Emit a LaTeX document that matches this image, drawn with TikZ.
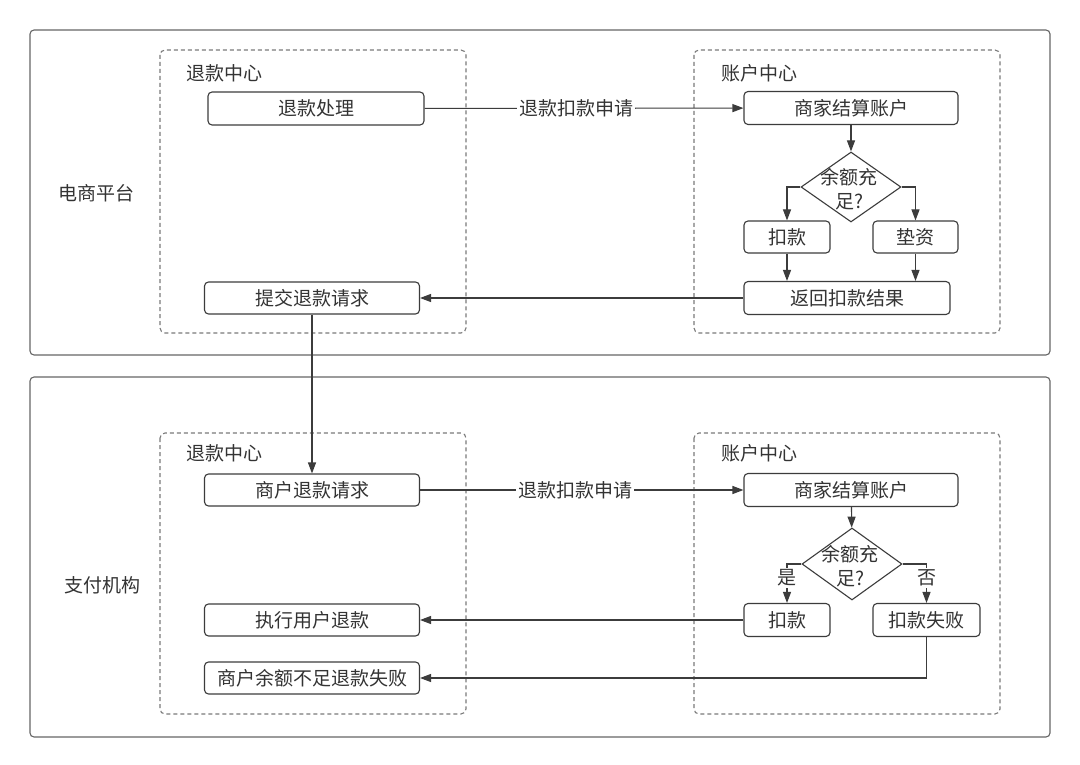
\documentclass[tikz,border=0pt]{standalone}
\usepackage{fontspec}
\setmainfont{Noto Sans CJK SC}
\usetikzlibrary{arrows.meta,shapes.geometric}
\definecolor{ln}{HTML}{3C3C3C}
\definecolor{tx}{HTML}{333333}
\definecolor{pn}{HTML}{666666}
\definecolor{ds}{HTML}{7A7A7A}
\tikzset{
  panel/.style={draw=pn, line width=1.1pt, rounded corners=4pt},
  grp/.style={draw=ds, line width=1.1pt, dash pattern=on 4pt off 3pt, rounded corners=5pt},
  box/.style={draw=ln, line width=1.1pt, rounded corners=4pt, inner sep=0pt, minimum height=33pt, text=tx, font=\fontsize{19}{23}\selectfont},
  dia/.style={draw=ln, line width=1.1pt, diamond, inner sep=0pt, minimum width=100pt, minimum height=70pt},
  txt/.style={text=tx, font=\fontsize{19}{23}\selectfont, inner sep=1pt},
  arr/.style={draw=ln, line width=1.1pt, -{Triangle[length=11pt,width=8pt]}},
  lnk/.style={draw=ln, line width=1.1pt},
}
\begin{document}
\begin{tikzpicture}[x=1pt,y=-1pt]
\useasboundingbox (0,0) rectangle (1080,765);
\fill[white] (0,0) rectangle (1080,765);
% panels
\draw[panel] (30,30) rectangle (1050,355);
\draw[panel] (30,377) rectangle (1050,737);
\node[txt] (p1) at (96,193) {电商平台};
\node[txt] (p2) at (102,585) {支付机构};
% groups
\draw[grp] (160,50) rectangle (466,333);
\draw[grp] (694,50) rectangle (1000,333);
\draw[grp] (160,433) rectangle (466,714);
\draw[grp] (694,433) rectangle (1000,714);
\node[txt, anchor=west] (g1) at (185,73) {退款中心};
\node[txt, anchor=west] (g2) at (720,73) {账户中心};
\node[txt, anchor=west] (g3) at (185,453) {退款中心};
\node[txt, anchor=west] (g4) at (720,453) {账户中心};
% top nodes
\node[box, minimum width=216pt] (tk) at (316,108.5) {退款处理};
\node[box, minimum width=214pt] (sj1) at (851,108) {商家结算账户};
\node[dia] (d1) at (851,187) {};
\node[txt, align=center, font=\fontsize{19}{24}\selectfont] (d1t) at (849,189) {余额充\\足?};
\node[box, minimum width=86pt, minimum height=32pt] (kk1) at (787,237) {扣款};
\node[box, minimum width=85pt, minimum height=32pt] (dz) at (915.5,237) {垫资};
\node[box, minimum width=206pt] (fh) at (847,298) {返回扣款结果};
\node[box, minimum width=215pt, minimum height=32pt] (tj) at (312,298) {提交退款请求};
% bottom nodes
\node[box, minimum width=215pt, minimum height=32pt] (sh) at (312,490) {商户退款请求};
\node[box, minimum width=214pt] (sj2) at (851,490) {商家结算账户};
\node[dia, minimum height=72pt] (d2) at (852,564) {};
\node[txt, align=center, font=\fontsize{19}{24}\selectfont] (d2t) at (850,566) {余额充\\足?};
\node[box, minimum width=86pt] (kk2) at (787,620) {扣款};
\node[box, minimum width=107pt] (kf) at (926.5,620) {扣款失败};
\node[box, minimum width=215pt, minimum height=32pt] (zx) at (312,620) {执行用户退款};
\node[box, minimum width=215pt, minimum height=32pt] (mf) at (312,678) {商户余额不足退款失败};
% top connectors
\draw[arr] (tk) -- node[pos=0.475, txt, fill=white, inner sep=2pt] {退款扣款申请} (sj1);
\draw[arr] (sj1) -- (d1);
\draw[arr] (d1.west) -| (kk1.north);
\draw[arr] (d1.east) -| (dz.north);
\draw[arr] (kk1.south) -- (kk1.south |- fh.north);
\draw[arr] (dz.south) -- (dz.south |- fh.north);
\draw[arr] (fh.west) -- (tj.east);
\draw[arr] (tj.south) -- (sh.north);
% bottom connectors
\draw[arr] (sh) -- node[pos=0.48, txt, fill=white, inner sep=2pt] {退款扣款申请} (sj2);
\draw[arr] ([xshift=0.5pt]sj2.south) -- (d2);
\draw[arr] (d2.west) -| node[pos=0.68, txt, fill=white, inner sep=2pt] {是} (kk2.north);
\draw[arr] (d2.east) -| node[pos=0.68, txt, fill=white, inner sep=2pt] {否} (kf.north);
\draw[arr] (kk2.west) -- (zx.east);
\draw[arr] (kf.south) |- (mf.east);
\end{tikzpicture}
\end{document}
